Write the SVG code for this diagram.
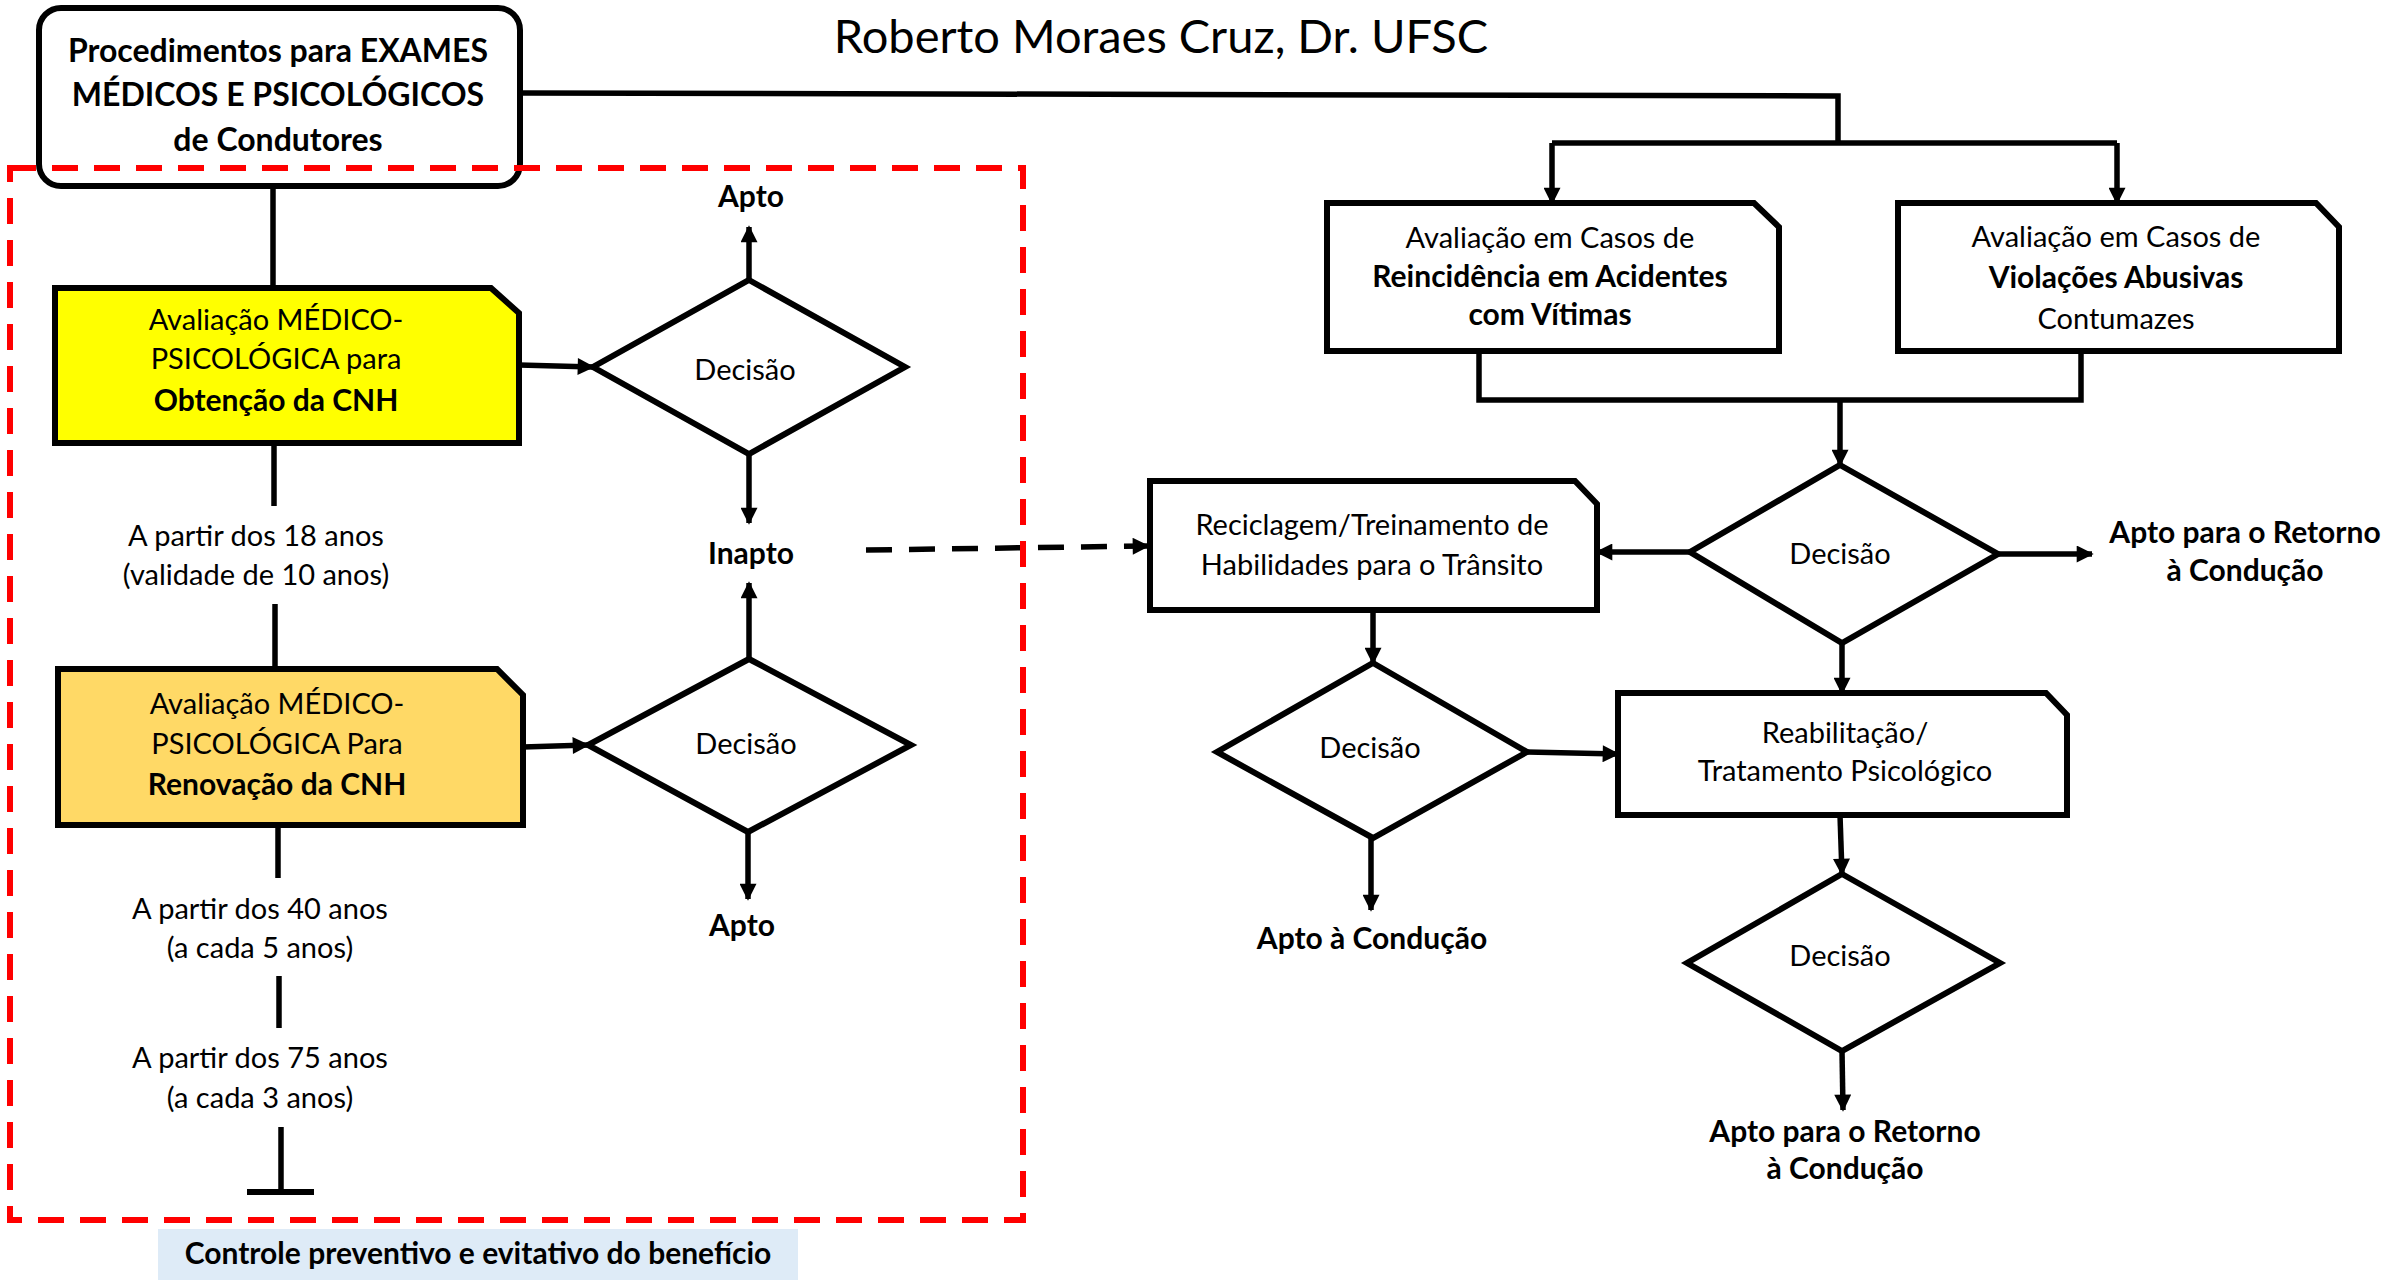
<svg xmlns="http://www.w3.org/2000/svg" width="2407" height="1280" viewBox="0 0 2407 1280">
<style>
.t{font-family:Lato,"Open Sans","Liberation Sans",sans-serif;font-size:29px;fill:#000;text-anchor:middle}
.b{font-weight:bold;font-size:30px}
.hd{font-weight:bold;font-size:32px}
.ti{font-size:47px}
.box{stroke:#000;stroke-width:6;stroke-linejoin:miter}
.ln{stroke:#000;stroke-width:5.5;fill:none}
.ar{stroke:#000;stroke-width:5.5;fill:none;marker-end:url(#ah)}
</style>
<defs>
<marker id="ah" viewBox="0 0 10 10" refX="9" refY="5" markerWidth="18" markerHeight="17" markerUnits="userSpaceOnUse" orient="auto"><path d="M0,0 L10,5 L0,10 z" fill="#000"/></marker>
</defs>
<rect width="2407" height="1280" fill="#fff"/>
<text class="t ti" x="1161" y="53">Roberto Moraes Cruz, Dr. UFSC</text>

<g id="connectors">
<polyline class="ln" points="273,187 273,288"/>
<polyline class="ar" points="519,365 593,367"/>
<polyline class="ar" points="749,280 749,227"/>
<polyline class="ar" points="749,454 749,523"/>
<polyline class="ln" points="274,443 274,506"/>
<polyline class="ln" points="275,604 275,669"/>
<polyline class="ar" points="523,747 588,745"/>
<polyline class="ar" points="749,659 749,583"/>
<polyline class="ar" points="748,832 748,899"/>
<polyline class="ln" points="278,825 278,878"/>
<polyline class="ln" points="279,976 279,1028"/>
<polyline class="ln" points="281,1127 281,1190"/>
<line x1="247" y1="1192" x2="314" y2="1192" stroke="#000" stroke-width="6"/>
<polyline class="ar" points="866,550 1148,546" stroke-dasharray="26 17"/>
<polyline class="ln" points="523,93 1838,96 1838,143"/>
<polyline class="ln" points="1552,143 2117,143"/>
<polyline class="ar" points="1552,143 1552,203"/>
<polyline class="ar" points="2117,143 2117,203"/>
<polyline class="ln" points="1479,351 1479,400 2081,400 2081,351"/>
<polyline class="ar" points="1840,400 1840,465"/>
<polyline class="ar" points="1690,552 1597,552"/>
<polyline class="ar" points="1998,554 2092,554"/>
<polyline class="ar" points="1842,643 1842,693"/>
<polyline class="ar" points="1373,610 1373,663"/>
<polyline class="ar" points="1527,752 1618,754"/>
<polyline class="ar" points="1371,838 1371,910"/>
<polyline class="ar" points="1840,815 1842,874"/>
<polyline class="ar" points="1842,1051 1843,1110"/>
</g>

<g id="n-top">
<rect class="box" x="39" y="8" width="481" height="178" rx="22" fill="#fff" stroke-width="7"/>
<text class="t hd" x="278" y="62">Procedimentos para EXAMES</text>
<text class="t hd" x="278" y="106">MÉDICOS E PSICOLÓGICOS</text>
<text class="t hd" x="278" y="151">de Condutores</text>
</g>

<g id="n-obtencao">
<path class="box" d="M55,288 L491,288 L519,313 L519,443 L55,443 Z" fill="#FFFF00"/>
<text class="t" x="276" y="330">Avaliação MÉDICO-</text>
<text class="t" x="276" y="369">PSICOLÓGICA para</text>
<text class="t b" x="276" y="411">Obtenção da CNH</text>
</g>

<g id="n-renovacao">
<path class="box" d="M58,669 L497,669 L523,695 L523,825 L58,825 Z" fill="#FFD966"/>
<text class="t" x="277" y="714">Avaliação MÉDICO-</text>
<text class="t" x="277" y="754">PSICOLÓGICA Para</text>
<text class="t b" x="277" y="795">Renovação da CNH</text>
</g>

<g id="n-d1">
<polygon class="box" points="749,280 905,367 749,454 593,367" fill="#fff"/>
<text class="t" x="745" y="380">Decisão</text>
</g>
<g id="n-d2">
<polygon class="box" points="749,659 911,745 748,832 588,745" fill="#fff"/>
<text class="t" x="746" y="754">Decisão</text>
</g>

<g id="labels-left">
<text class="t b" x="751" y="207">Apto</text>
<text class="t b" x="751" y="564">Inapto</text>
<text class="t b" x="742" y="936">Apto</text>
<text class="t" x="256" y="546">A partir dos 18 anos</text>
<text class="t" x="256" y="585">(validade de 10 anos)</text>
<text class="t" x="260" y="919">A partir dos 40 anos</text>
<text class="t" x="260" y="958">(a cada 5 anos)</text>
<text class="t" x="260" y="1068">A partir dos 75 anos</text>
<text class="t" x="260" y="1108">(a cada 3 anos)</text>
</g>

<g id="n-reincidencia">
<path class="box" d="M1327,203 L1754,203 L1779,227 L1779,351 L1327,351 Z" fill="#fff"/>
<text class="t" x="1550" y="248">Avaliação em Casos de</text>
<text class="t b" x="1550" y="287">Reincidência em Acidentes</text>
<text class="t b" x="1550" y="325">com Vítimas</text>
</g>

<g id="n-violacoes">
<path class="box" d="M1898,203 L2316,203 L2339,227 L2339,351 L1898,351 Z" fill="#fff"/>
<text class="t" x="2116" y="247">Avaliação em Casos de</text>
<text class="t b" x="2116" y="288">Violações Abusivas</text>
<text class="t" x="2116" y="329">Contumazes</text>
</g>

<g id="n-d3">
<polygon class="box" points="1840,465 1998,554 1842,643 1690,552" fill="#fff"/>
<text class="t" x="1840" y="564">Decisão</text>
</g>

<g id="n-reciclagem">
<path class="box" d="M1150,481 L1575,481 L1597,504 L1597,610 L1150,610 Z" fill="#fff"/>
<text class="t" x="1372" y="535">Reciclagem/Treinamento de</text>
<text class="t" x="1372" y="575">Habilidades para o Trânsito</text>
</g>

<g id="n-d4">
<polygon class="box" points="1373,663 1527,752 1373,838 1217,752" fill="#fff"/>
<text class="t" x="1370" y="758">Decisão</text>
</g>

<g id="n-reabilitacao">
<path class="box" d="M1618,693 L2046,693 L2067,715 L2067,815 L1618,815 Z" fill="#fff"/>
<text class="t" x="1845" y="743">Reabilitação/</text>
<text class="t" x="1845" y="781">Tratamento Psicológico</text>
</g>

<g id="n-d5">
<polygon class="box" points="1842,874 2000,963 1842,1051 1687,963" fill="#fff"/>
<text class="t" x="1840" y="966">Decisão</text>
</g>

<g id="labels-right">
<text class="t b" x="2245" y="543">Apto para o Retorno</text>
<text class="t b" x="2245" y="581">à Condução</text>
<text class="t b" x="1372" y="949">Apto à Condução</text>
<text class="t b" x="1845" y="1142">Apto para o Retorno</text>
<text class="t b" x="1845" y="1179">à Condução</text>
</g>

<g id="region">
<rect x="10" y="168" width="1013" height="1052" fill="none" stroke="#FF0000" stroke-width="6" stroke-dasharray="26 16"/>
</g>

<g id="caption">
<rect x="158" y="1229" width="640" height="51" fill="#DEEBF7"/>
<text class="t b" x="478" y="1264">Controle preventivo e evitativo do benefício</text>
</g>
</svg>
